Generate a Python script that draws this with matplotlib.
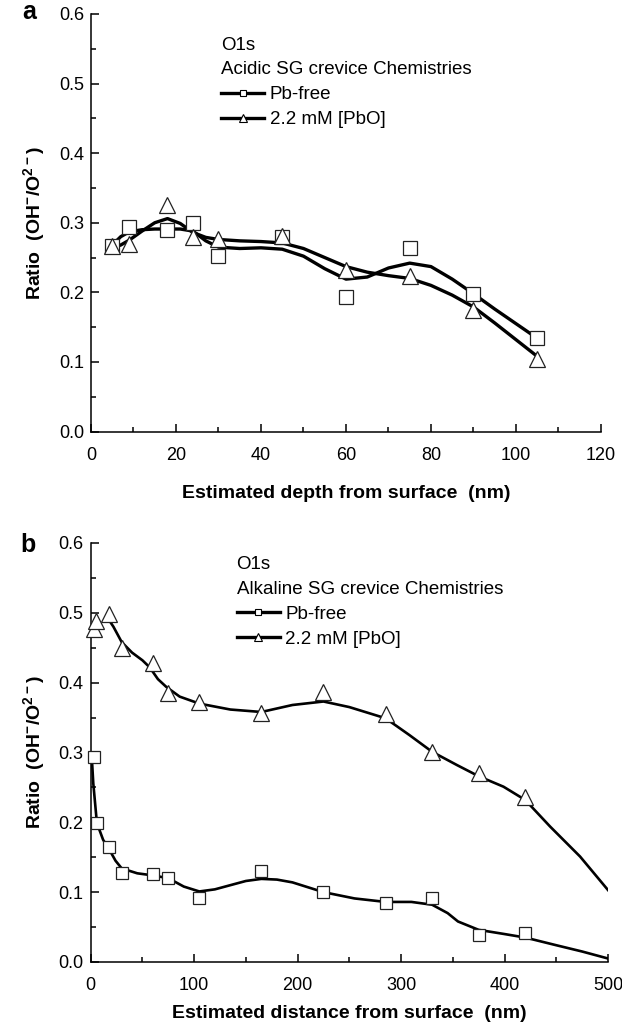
import numpy as np
import matplotlib
matplotlib.use('Agg')
import matplotlib.pyplot as plt
from matplotlib.lines import Line2D

plt.rcParams['font.family'] = ['Liberation Sans', 'DejaVu Sans']
plt.rcParams['mathtext.fontset'] = 'custom'
plt.rcParams['mathtext.rm'] = 'Liberation Sans'
plt.rcParams['mathtext.bf'] = 'Liberation Sans:bold'

# panel a - acidic chemistries
a_x = [5, 9, 18, 24, 30, 45, 60, 75, 90, 105]
a_pbfree = [0.266, 0.294, 0.289, 0.299, 0.252, 0.280, 0.193, 0.264, 0.198, 0.134]
a_pbo = [0.267, 0.269, 0.326, 0.279, 0.276, 0.281, 0.232, 0.224, 0.175, 0.104]

# fitted curves
a_fit_x = [5, 7, 9, 12, 15, 18, 21, 24, 27, 30, 35, 40, 45, 50, 55, 60, 65, 70, 75, 80, 85, 90, 95, 100, 105]
a_fit_pbfree = [0.268, 0.280, 0.287, 0.290, 0.291, 0.291, 0.291, 0.288, 0.274, 0.265, 0.263, 0.264, 0.262,
                0.252, 0.234, 0.219, 0.222, 0.235, 0.242, 0.237, 0.219, 0.198, 0.176, 0.155, 0.134]
a_fit_pbo = [0.264, 0.268, 0.275, 0.288, 0.300, 0.306, 0.299, 0.286, 0.279, 0.276, 0.274, 0.273, 0.271,
             0.263, 0.250, 0.237, 0.229, 0.224, 0.220, 0.210, 0.196, 0.179, 0.156, 0.132, 0.108]

# panel b - alkaline chemistries
b_x_pbfree = [3, 6, 18, 30, 60, 75, 105, 165, 225, 285, 330, 375, 420]
b_pbfree = [0.294, 0.199, 0.164, 0.128, 0.126, 0.120, 0.092, 0.130, 0.100, 0.084, 0.091, 0.039, 0.041]
b_x_pbo = [3, 5, 18, 30, 60, 75, 105, 165, 225, 285, 330, 375, 420]
b_pbo = [0.477, 0.488, 0.499, 0.449, 0.428, 0.385, 0.372, 0.356, 0.386, 0.355, 0.301, 0.270, 0.236]

b_fit_x1 = [1, 2.5, 6, 12, 18, 24, 30, 45, 60, 75, 90, 105, 120, 135, 150, 165, 180, 195, 210, 225,
            255, 285, 310, 330, 345, 355, 375, 400, 420, 450, 475, 500]
b_fit_pbfree = [0.295, 0.256, 0.199, 0.175, 0.161, 0.145, 0.134, 0.127, 0.124, 0.120, 0.108, 0.101, 0.104,
                0.110, 0.116, 0.119, 0.118, 0.114, 0.107, 0.100, 0.091, 0.086, 0.086, 0.082, 0.070, 0.058,
                0.046, 0.040, 0.035, 0.024, 0.015, 0.005]
b_fit_x2 = [14, 18, 22, 30, 40, 50, 57, 65, 73, 86, 105, 135, 165, 195, 225, 250, 285, 308, 330, 354,
            375, 399, 420, 444, 473, 500]
b_fit_pbo = [0.490, 0.489, 0.480, 0.458, 0.443, 0.432, 0.422, 0.405, 0.394, 0.380, 0.370, 0.3615, 0.358,
             0.368, 0.373, 0.365, 0.349, 0.325, 0.301, 0.282, 0.266, 0.251, 0.232, 0.194, 0.151, 0.103]

legend_labels = ['Pb-free', '2.2 mM [PbO]']
ylab = r'Ratio  (OH$^{\mathbf{-}}$/O$^{\mathbf{2-}}$)'


def style(ax, xmax, xstep):
    for s in ['top', 'right']:
        ax.spines[s].set_visible(False)
    for s in ['left', 'bottom']:
        ax.spines[s].set_linewidth(1.1)
    ax.set_xlim(0, xmax)
    ax.set_ylim(0, 0.6)
    ax.set_xticks(np.arange(0, xmax + 1, xstep))
    ax.set_xticks(np.arange(0, xmax + 1, xstep / 2), minor=True)
    ax.set_yticks(np.arange(0, 0.61, 0.1))
    ax.set_yticks(np.arange(0, 0.61, 0.05), minor=True)
    ax.set_yticklabels(['%.1f' % v for v in np.arange(0, 0.61, 0.1)])
    ax.tick_params(which='major', direction='in', length=6, width=1.1, labelsize=13)
    ax.tick_params(axis='x', which='major', pad=11)
    ax.tick_params(axis='y', which='major', pad=5)
    ax.tick_params(which='minor', direction='in', length=3.3, width=1.1)
    ax.set_ylabel(ylab, fontsize=14, fontweight='bold', labelpad=8)


def panel(ax, fx1, fy1, fx2, fy2, x1, y1, x2, y2, lw, ms_s, ms_t, title, anchor):
    ax.plot(fx1, fy1, color='k', lw=lw, zorder=2)
    ax.plot(fx2, fy2, color='k', lw=lw, zorder=2)
    ax.plot(x1, y1, ls='none', marker='s', ms=ms_s, mfc='w', mec='#222222', mew=0.9, zorder=3, clip_on=False)
    ax.plot(x2, y2, ls='none', marker='^', ms=ms_t, mfc='w', mec='#222222', mew=0.9, zorder=4, clip_on=False)
    handles = [Line2D([], [], color='k', lw=2.4, marker='s', ms=5, mfc='w', mec='k', mew=0.8),
               Line2D([], [], color='k', lw=2.4, marker='^', ms=6, mfc='w', mec='k', mew=0.8)]
    leg = ax.legend(handles, legend_labels, title=title, loc='upper left', bbox_to_anchor=anchor,
                    frameon=False, fontsize=13.5, title_fontsize=13.5, alignment='left',
                    handlelength=2.3, handletextpad=0.3, labelspacing=0.42, borderpad=0, borderaxespad=0)
    leg.get_title().set_linespacing(1.55)


fig = plt.figure(figsize=(6.22, 10.27), dpi=100)
ax1 = fig.add_axes([0.1463, 0.5798, 0.8199, 0.4066])
ax2 = fig.add_axes([0.1458, 0.0633, 0.8317, 0.4080])

style(ax1, 120, 20)
style(ax2, 500, 100)

panel(ax1, a_fit_x, a_fit_pbfree, a_fit_x, a_fit_pbo, a_x, a_pbfree, a_x, a_pbo,
      2.4, 10, 12, 'O1s\nAcidic SG crevice Chemistries', (0.255, 0.945))
panel(ax2, b_fit_x1, b_fit_pbfree, b_fit_x2, b_fit_pbo, b_x_pbfree, b_pbfree, b_x_pbo, b_pbo,
      1.9, 8.5, 11, 'O1s\nAlkaline SG crevice Chemistries', (0.282, 0.968))

ax1.set_xlabel('Estimated depth from surface  (nm)', fontsize=14, fontweight='bold', labelpad=15)
ax2.set_xlabel('Estimated distance from surface  (nm)', fontsize=14, fontweight='bold', labelpad=8)

fig.text(22 / 622, 1 - 12 / 1027, 'a', fontsize=18, fontweight='bold', va='center', ha='left')
fig.text(20 / 622, 1 - 545 / 1027, 'b', fontsize=18, fontweight='bold', va='center', ha='left')

fig.savefig('out.png', dpi=100)
